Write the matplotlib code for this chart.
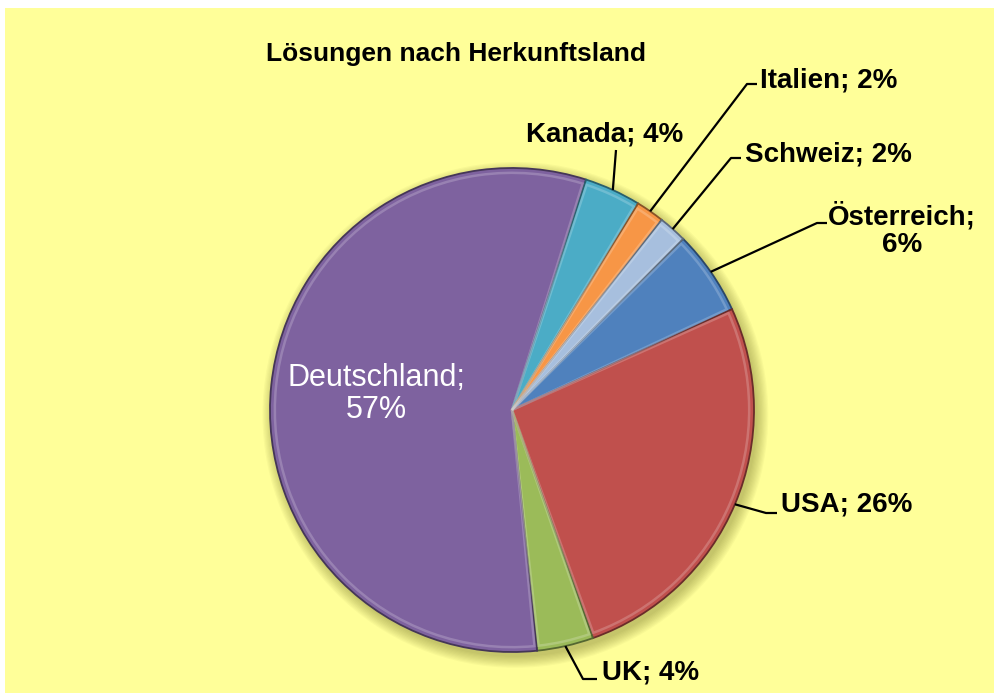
import numpy as np
import matplotlib
matplotlib.use("Agg")
import matplotlib.pyplot as plt
from matplotlib.patches import Wedge, Circle
from matplotlib import colors as mcolors

plt.rcParams['font.family'] = ['Liberation Sans', 'DejaVu Sans']

# data (counts, clockwise from the first slice)
countries = ['Österreich', 'USA', 'UK', 'Deutschland', 'Kanada', 'Italien', 'Schweiz']
counts = [3, 14, 2, 30, 2, 1, 1]
slice_colors = ['#4F81BD', '#C0504D', '#9BBB59', '#7E629F', '#4BACC6', '#F79646', '#A7BFDE']
title = 'Lösungen nach Herkunftsland'

W, H = 994, 693
CX, CY, R = 512, 410, 242   # pie centre / radius in pixels


def px(x, y):
    # pixel (from top-left) -> data coords where the pie has radius 1
    return (x - CX) / R, (CY - y) / R


fig = plt.figure(figsize=(W / 100, H / 100), dpi=100)
fig.patch.set_facecolor('white')

# yellow chart area
bg = fig.add_axes([5 / W, 0, 1 - 5 / W, (H - 8) / H], zorder=0)
bg.set_facecolor('#FFFF99')
bg.set_xticks([])
bg.set_yticks([])
for s in bg.spines.values():
    s.set_visible(False)

ax = fig.add_axes([0, 0, 1, 1], zorder=1)
ax.patch.set_alpha(0)

# soft drop shadow
for i in range(10):
    ax.add_patch(Circle((0.014, -0.02), 1.0 + 0.005 * i, facecolor='#6b6b20',
                        edgecolor='none', alpha=0.045, zorder=1))

wedges, _ = ax.pie(counts, colors=slice_colors, startangle=45, counterclock=False,
                   radius=1.0, wedgeprops=dict(linewidth=0))
total = sum(counts)

ax.set_aspect('auto')
ax.set_xlim(-CX / R, (W - CX) / R)
ax.set_ylim(-(H - CY) / R, CY / R)
ax.axis('off')

# bevel look
for w, c in zip(wedges, slice_colors):
    w.set_zorder(2)
    rgb = np.array(mcolors.to_rgb(c))
    dark = rgb * 0.55
    light = rgb + (1 - rgb) * 0.4
    w.set_edgecolor(dark)
    w.set_linewidth(1.3)
    hl = Wedge(w.center, w.r * 0.98, w.theta1 + 0.5, w.theta2 - 0.5, fill=False,
               edgecolor=light, linewidth=1.8, alpha=0.5, zorder=3)
    ax.add_patch(hl)


def arc_point(w):
    mid = np.deg2rad((w.theta1 + w.theta2) / 2)
    return np.cos(mid), np.sin(mid)


# label layout: elbow point, end of horizontal tick, text anchor, alignment
layout = {
    'Kanada':     (None, (616, 150), (605, 135), 'center'),
    'Italien':    ((747, 84), (757, 84), (760, 81), 'left'),
    'Schweiz':    ((731, 158), (741, 158), (745, 155), 'left'),
    'Österreich': ((817, 223), (827, 223), (902, 230), 'center'),
    'USA':        ((766, 513), (777, 513), (781, 505), 'left'),
    'UK':         ((583, 679), (597, 679), (602, 672), 'left'),
}

for w, name, n in zip(wedges, countries, counts):
    pct = int(round(100 * n / total))
    if name == 'Deutschland':
        tx, ty = px(376, 394)
        ax.text(tx, ty, f'{name};\n{pct}%', color='white', fontsize=22,
                ha='center', va='center', linespacing=1.05, zorder=5)
        continue
    elbow, tick, anchor, ha = layout[name]
    x0, y0 = arc_point(w)
    pts = [(x0, y0)]
    if elbow is not None:
        pts.append(px(*elbow))
    pts.append(px(*tick))
    xs, ys = zip(*pts)
    ax.plot(xs, ys, color='black', linewidth=1.6, zorder=4, solid_capstyle='butt')
    text = f'{name};\n{pct}%' if name == 'Österreich' else f'{name}; {pct}%'
    tx, ty = px(*anchor)
    ax.text(tx, ty, text, color='black', fontsize=20, fontweight='bold',
            ha=ha, va='center', multialignment='center', linespacing=1.1, zorder=5)

tx, ty = px(456, 54)
ax.text(tx, ty, title, fontsize=19, fontweight='bold', ha='center', va='center', zorder=5)

fig.savefig('out.png', dpi=100, facecolor=fig.get_facecolor())
